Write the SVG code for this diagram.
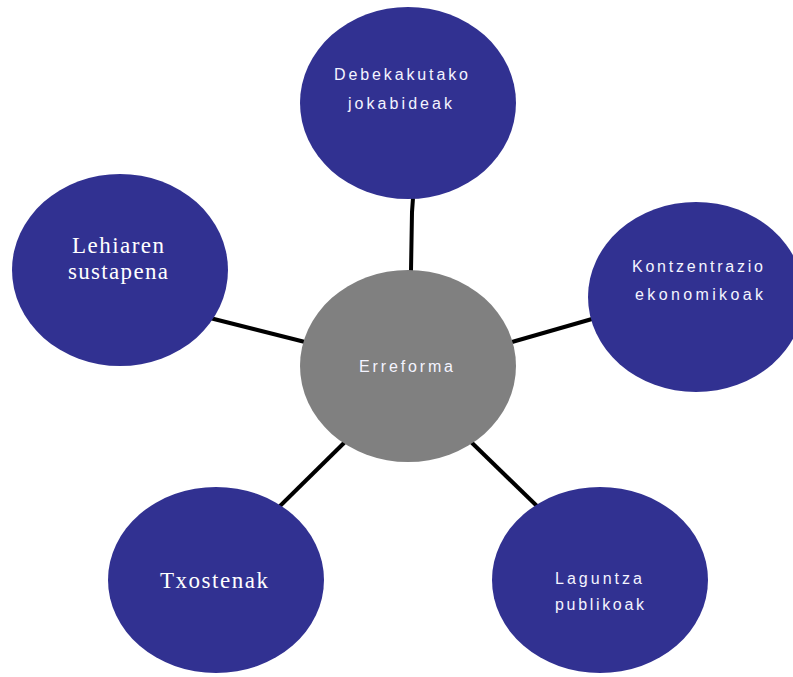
<svg xmlns="http://www.w3.org/2000/svg" width="793" height="677" viewBox="0 0 793 677">
<style>
.n{fill:#313191}
.c{fill:#808080}
.s{font-family:"Liberation Sans","DejaVu Sans",sans-serif;font-size:16px;fill:#f4f4ff}
.r{font-family:"Liberation Serif","DejaVu Serif",serif;font-size:23px;fill:#ffffff}
.e{stroke:#000;stroke-width:4;fill:none;stroke-linecap:butt}
</style>
<rect width="793" height="677" fill="#fff"/>
<g id="connectors">
<path class="e" d="M413,198 L412,212 L411,271"/>
<path class="e" d="M206,317 L309,343"/>
<path class="e" d="M512,342 L592,319"/>
<path class="e" d="M347,440 L277,509"/>
<path class="e" d="M469,440 L540,509"/>
</g>
<g id="center">
<ellipse class="c" cx="408" cy="366" rx="108" ry="96"/>
<text class="s" x="359" y="372" textLength="94" lengthAdjust="spacing">Erreforma</text>
</g>
<g id="top">
<ellipse class="n" cx="408" cy="103" rx="108" ry="96"/>
<text class="s" x="334" y="80" textLength="134" lengthAdjust="spacing">Debekakutako</text>
<text class="s" x="348" y="109" textLength="104" lengthAdjust="spacing">jokabideak</text>
</g>
<g id="left">
<ellipse class="n" cx="120" cy="270" rx="108" ry="96"/>
<text class="r" x="72" y="253" textLength="92" lengthAdjust="spacing">Lehiaren</text>
<text class="r" x="68" y="279" textLength="100" lengthAdjust="spacing">sustapena</text>
</g>
<g id="right">
<ellipse class="n" cx="696" cy="297" rx="108" ry="95"/>
<text class="s" x="632" y="272" textLength="131" lengthAdjust="spacing">Kontzentrazio</text>
<text class="s" x="635" y="300" textLength="128" lengthAdjust="spacing">ekonomikoak</text>
</g>
<g id="bottomleft">
<ellipse class="n" cx="216" cy="580" rx="108" ry="93"/>
<text class="r" x="160" y="588" textLength="108" lengthAdjust="spacing">Txostenak</text>
</g>
<g id="bottomright">
<ellipse class="n" cx="600" cy="580" rx="108" ry="93"/>
<text class="s" x="555" y="584" textLength="87" lengthAdjust="spacing">Laguntza</text>
<text class="s" x="555" y="610" textLength="89" lengthAdjust="spacing">publikoak</text>
</g>
</svg>
